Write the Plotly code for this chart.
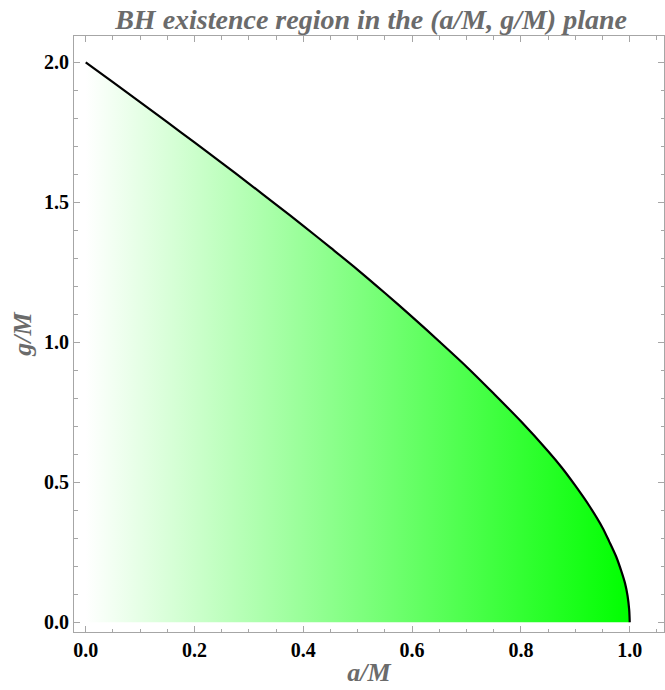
import plotly.graph_objects as go

# Boundary of BH existence region
a_over_M = [0.0, 0.05, 0.10, 0.15, 0.20, 0.25, 0.30, 0.35, 0.40, 0.45, 0.50,
            0.55, 0.60, 0.65, 0.70, 0.75, 0.80, 0.85, 0.875, 0.90, 0.925,
            0.95, 0.962, 0.975, 0.985, 0.9914, 0.996, 0.999, 1.0]
g_over_M = [2.000, 1.929, 1.858, 1.786, 1.714, 1.641, 1.567, 1.492, 1.416, 1.338, 1.259,
            1.176, 1.091, 1.003, 0.913, 0.817, 0.718, 0.611, 0.553, 0.488, 0.418,
            0.338, 0.290, 0.235, 0.180, 0.139, 0.095, 0.045, 0.0]

x_ticks = [0.0, 0.2, 0.4, 0.6, 0.8, 1.0]
y_ticks = [0.0, 0.5, 1.0, 1.5, 2.0]

title_text = "BH existence region in the (a/M, g/M) plane"
x_title = "a/M"
y_title = "g/M"

serif = "Liberation Serif, Times New Roman, serif"
gray_text = "#6b6b6b"
frame = "#a6a6a6"

fig = go.Figure()
fig.add_trace(go.Scatter(
    x=a_over_M, y=g_over_M,
    mode="lines",
    line=dict(color="black", width=2.2, shape="spline", smoothing=0.8),
    fill="tozeroy",
    fillgradient=dict(type="horizontal",
                      colorscale=[[0, "#ffffff"], [1, "#00ff00"]]),
    hoverinfo="skip",
    showlegend=False,
))

axis_common = dict(
    showline=True, linecolor=frame, linewidth=1, mirror="allticks",
    ticks="inside", ticklen=6, tickwidth=1, tickcolor=frame,
    showgrid=False, zeroline=False,
    tickfont=dict(family=serif, size=20, color="black", weight="bold"),
)

fig.update_layout(
    width=665, height=690,
    margin=dict(l=74, r=1, t=36, b=58),
    paper_bgcolor="white", plot_bgcolor="white",
    title=dict(text=f"<b><i>{title_text}</i></b>", x=0.558, xanchor="center",
               y=0.986, yanchor="top",
               font=dict(family=serif, size=28, color=gray_text)),
    xaxis=dict(range=[-0.0215, 1.063], tickvals=x_ticks,
               ticktext=[f"{v:.1f}" for v in x_ticks],
               minor=dict(ticks="inside", dtick=0.05, ticklen=3.5, tickcolor=frame),
               title=dict(text=f"<b><i>{x_title}</i></b>", standoff=2,
                          font=dict(family=serif, size=26, color=gray_text)),
               **axis_common),
    yaxis=dict(range=[-0.0346, 2.094], tickvals=y_ticks,
               ticktext=[f"{v:.1f}" for v in y_ticks],
               minor=dict(ticks="inside", dtick=0.1, ticklen=3.5, tickcolor=frame),
               title=dict(text=f"<b><i>{y_title}</i></b>", standoff=4,
                          font=dict(family=serif, size=26, color=gray_text)),
               **axis_common),
)

fig.write_html("out.html")
